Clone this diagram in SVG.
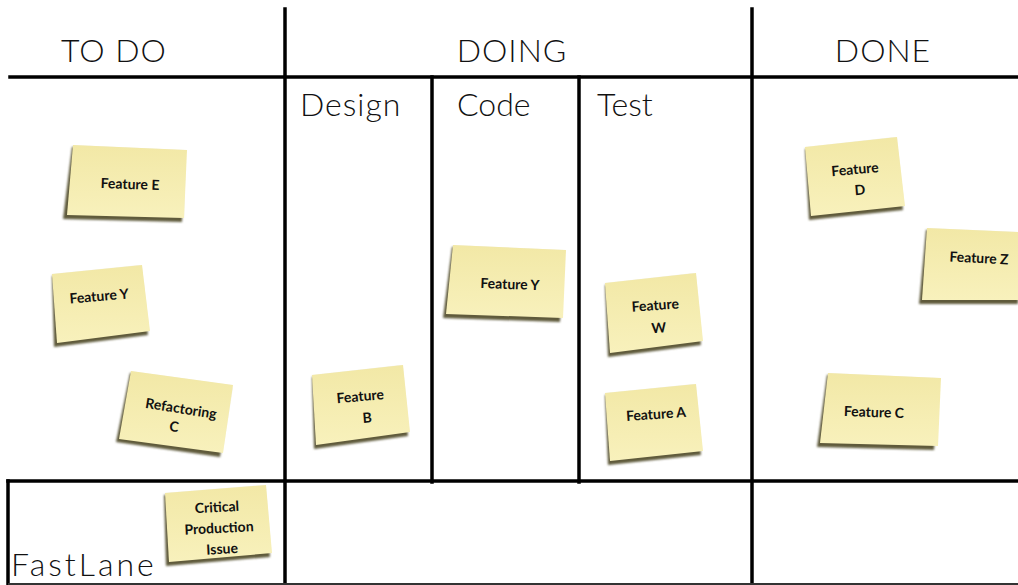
<svg xmlns="http://www.w3.org/2000/svg" width="1018" height="585" viewBox="0 0 1018 585">
<style>
.ln{stroke:#000;stroke-width:3.5;fill:none;stroke-linecap:square}
.hd{font-family:Lato,"DejaVu Sans",sans-serif;font-weight:300;font-size:32px;fill:#111}
.st{fill:url(#sg)}
.sh{fill:#5e5a3a;filter:url(#blur)}
.tx{font-family:Lato,"DejaVu Sans",sans-serif;font-weight:700;font-size:14px;fill:#111;text-anchor:middle}
</style>
<defs>
<linearGradient id="sg" x1="0" y1="0" x2="0" y2="1">
<stop offset="0" stop-color="#f2e8a6"/>
<stop offset="1" stop-color="#f8f1bc"/>
</linearGradient>
<filter id="blur" x="-10%" y="-10%" width="120%" height="130%"><feGaussianBlur stdDeviation="1.2"/></filter>
</defs>
<rect width="1018" height="585" fill="#fff"/>
<g id="board">
<line class="ln" x1="10" y1="77" x2="1018" y2="77"/>
<line class="ln" x1="285" y1="9" x2="285" y2="584"/>
<line class="ln" x1="752" y1="9" x2="752" y2="584"/>
<line class="ln" x1="432" y1="77" x2="432" y2="482"/>
<line class="ln" x1="579" y1="77" x2="579" y2="482"/>
<line class="ln" x1="8" y1="481" x2="1018" y2="481"/>
<line class="ln" x1="8" y1="481" x2="8" y2="584"/>
<line x1="8" y1="584" x2="1018" y2="584" stroke="#333" stroke-width="2"/>
</g>
<g id="headers">
<text class="hd" x="114" y="62" text-anchor="middle" letter-spacing="1">TO DO</text>
<text class="hd" x="512" y="62" text-anchor="middle" letter-spacing="1">DOING</text>
<text class="hd" x="883" y="62" text-anchor="middle" letter-spacing="1">DONE</text>
<text class="hd" x="300" y="116" font-size="33" letter-spacing="1">Design</text>
<text class="hd" x="457" y="116" font-size="33">Code</text>
<text class="hd" x="597" y="116" font-size="33">Test</text>
<text class="hd" x="11" y="576" font-size="29" letter-spacing="3">FastLane</text>
</g>
<g id="featureE">
<polygon class="sh" points="72,147 184,152 182,222 63,219"/>
<polygon class="st" points="73,145 187,150 184,218 67,215"/>
<text class="tx" x="130" y="189" transform="rotate(2 130 184)">Feature E</text>
</g>
<g id="featureY-todo">
<polygon class="sh" points="52,276 140,267 148,335 54,347"/>
<polygon class="st" points="52,274 142,265 150,331 57,343"/>
<text class="tx" x="99" y="301" transform="rotate(-5 99 296)">Feature Y</text>
</g>
<g id="refactoringC">
<polygon class="sh" points="130,373 231,387 220,457 116,442"/>
<polygon class="st" points="131,371 233,385 223,453 119,439"/>
<text class="tx" x="180" y="413" transform="rotate(9 178 415)">Refactoring</text>
<text class="tx" x="176" y="432" transform="rotate(9 178 415)">C</text>
</g>
<g id="criticalIssue">
<polygon class="sh" points="164,495 264,487 270,557 166,566"/>
<polygon class="st" points="165,493 266,485 272,553 169,562"/>
<text class="tx" x="218" y="512" transform="rotate(-3 218 528)">Critical</text>
<text class="tx" x="219" y="533" transform="rotate(-3 218 528)">Production</text>
<text class="tx" x="221" y="554" transform="rotate(-3 218 528)">Issue</text>
</g>
<g id="featureB">
<polygon class="sh" points="312,377 401,367 408,436 314,449"/>
<polygon class="st" points="312,375 403,365 410,432 316,445"/>
<text class="tx" x="361" y="401" transform="rotate(-5 362 405)">Feature</text>
<text class="tx" x="366" y="423" transform="rotate(-5 362 405)">B</text>
</g>
<g id="featureY-code">
<polygon class="sh" points="452,247 563,252 560,322 443,318"/>
<polygon class="st" points="453,245 566,250 563,318 446,314"/>
<text class="tx" x="510" y="289" transform="rotate(2 510 284)">Feature Y</text>
</g>
<g id="featureW">
<polygon class="sh" points="605,285 694,275 701,345 608,357"/>
<polygon class="st" points="605,283 696,273 703,341 610,353"/>
<text class="tx" x="656" y="310" transform="rotate(-4 656 316)">Feature</text>
<text class="tx" x="658" y="333" transform="rotate(-4 656 316)">W</text>
</g>
<g id="featureA">
<polygon class="sh" points="605,395 694,386 701,455 608,465"/>
<polygon class="st" points="605,393 696,384 703,451 610,461"/>
<text class="tx" x="656" y="419" transform="rotate(-4 656 414)">Feature A</text>
</g>
<g id="featureD">
<polygon class="sh" points="805,149 895,139 903,210 809,220"/>
<polygon class="st" points="805,147 897,137 905,206 811,216"/>
<text class="tx" x="856" y="174" transform="rotate(-5 857 180)">Feature</text>
<text class="tx" x="859" y="195" transform="rotate(-5 857 180)">D</text>
</g>
<g id="featureZ">
<polygon class="sh" points="926,230 1018,234 1018,304 919,304"/>
<polygon class="st" points="927,228 1020,232 1019,300 922,300"/>
<text class="tx" x="979" y="263" transform="rotate(3 979 258)">Feature Z</text>
</g>
<g id="featureC">
<polygon class="sh" points="827,375 938,380 934,450 817,447"/>
<polygon class="st" points="828,373 941,378 938,446 820,443"/>
<text class="tx" x="874" y="417" transform="rotate(2 874 412)">Feature C</text>
</g>
</svg>
